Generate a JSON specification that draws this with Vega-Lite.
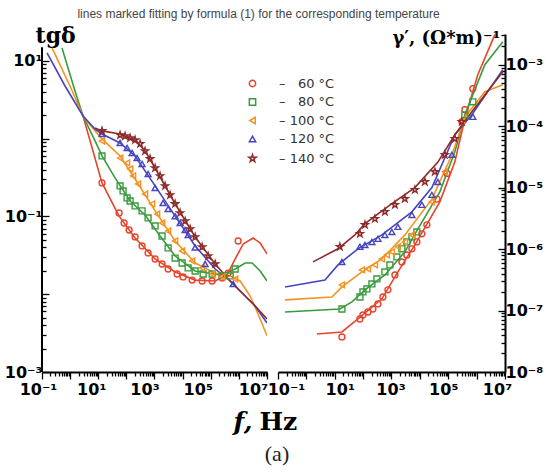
{
"$schema":"https://vega.github.io/schema/vega-lite/v6.json",
"padding":{"left":4,"top":8,"right":2,"bottom":5},
"title":{"text":"lines marked fitting by formula (1) for the corresponding temperature","font":"Liberation Sans","fontSize":12,"fontWeight":"normal","color":"#444","anchor":"middle","dx":-15,"offset":3},
"datasets":{
"pts":[
{"p":"L","T":"60 °C","f":13.6,"v":0.27},{"p":"L","T":"60 °C","f":55,"v":0.111},{"p":"L","T":"60 °C","f":83,"v":0.0824},{"p":"L","T":"60 °C","f":125,"v":0.067},{"p":"L","T":"60 °C","f":204,"v":0.0545},{"p":"L","T":"60 °C","f":362,"v":0.0418},{"p":"L","T":"60 °C","f":592,"v":0.034},{"p":"L","T":"60 °C","f":1050,"v":0.0284},{"p":"L","T":"60 °C","f":1860,"v":0.0245},{"p":"L","T":"60 °C","f":3050,"v":0.0211},{"p":"L","T":"60 °C","f":6370,"v":0.0182},{"p":"L","T":"60 °C","f":10400,"v":0.0167},{"p":"L","T":"60 °C","f":21800,"v":0.0152},{"p":"L","T":"60 °C","f":49400,"v":0.0148},{"p":"L","T":"60 °C","f":112000,"v":0.0148},{"p":"L","T":"60 °C","f":255000,"v":0.0162},{"p":"L","T":"60 °C","f":416000,"v":0.0187},{"p":"L","T":"60 °C","f":944000,"v":0.0484},
{"p":"L","T":"80 °C","f":13.6,"v":0.6},{"p":"L","T":"80 °C","f":59.7,"v":0.247},{"p":"L","T":"80 °C","f":76.4,"v":0.213},{"p":"L","T":"80 °C","f":106,"v":0.173},{"p":"L","T":"80 °C","f":136,"v":0.158},{"p":"L","T":"80 °C","f":204,"v":0.1365},{"p":"L","T":"80 °C","f":362,"v":0.118},{"p":"L","T":"80 °C","f":592,"v":0.0957},{"p":"L","T":"80 °C","f":1050,"v":0.0755},{"p":"L","T":"80 °C","f":1860,"v":0.0561},{"p":"L","T":"80 °C","f":3050,"v":0.0394},{"p":"L","T":"80 °C","f":5410,"v":0.0292},{"p":"L","T":"80 °C","f":9600,"v":0.0252},{"p":"L","T":"80 °C","f":15700,"v":0.0218},{"p":"L","T":"80 °C","f":27900,"v":0.0199},{"p":"L","T":"80 °C","f":53700,"v":0.0182},{"p":"L","T":"80 °C","f":112000,"v":0.0182},{"p":"L","T":"80 °C","f":255000,"v":0.0172},{"p":"L","T":"80 °C","f":490000,"v":0.0172},{"p":"L","T":"80 °C","f":738000,"v":0.0211},
{"p":"L","T":"100 °C","f":13.6,"v":0.935},{"p":"L","T":"100 °C","f":59.7,"v":0.565},{"p":"L","T":"100 °C","f":106,"v":0.488},{"p":"L","T":"100 °C","f":136,"v":0.408},{"p":"L","T":"100 °C","f":173,"v":0.332},{"p":"L","T":"100 °C","f":261,"v":0.262},{"p":"L","T":"100 °C","f":462,"v":0.1945},{"p":"L","T":"100 °C","f":822,"v":0.145},{"p":"L","T":"100 °C","f":1240,"v":0.1076},{"p":"L","T":"100 °C","f":1860,"v":0.0824},{"p":"L","T":"100 °C","f":3050,"v":0.065},{"p":"L","T":"100 °C","f":5410,"v":0.0484},{"p":"L","T":"100 °C","f":9600,"v":0.036},{"p":"L","T":"100 °C","f":21800,"v":0.0268},{"p":"L","T":"100 °C","f":49400,"v":0.0218},{"p":"L","T":"100 °C","f":112000,"v":0.0182},{"p":"L","T":"100 °C","f":255000,"v":0.0167},{"p":"L","T":"100 °C","f":738000,"v":0.0157},
{"p":"L","T":"120 °C","f":13.6,"v":1.15},{"p":"L","T":"120 °C","f":59.7,"v":0.881},{"p":"L","T":"120 °C","f":106,"v":0.76},{"p":"L","T":"120 °C","f":160,"v":0.656},{"p":"L","T":"120 °C","f":240,"v":0.565},{"p":"L","T":"120 °C","f":362,"v":0.473},{"p":"L","T":"120 °C","f":592,"v":0.352},{"p":"L","T":"120 °C","f":1050,"v":0.233},{"p":"L","T":"120 °C","f":2020,"v":0.149},{"p":"L","T":"120 °C","f":3050,"v":0.125},{"p":"L","T":"120 °C","f":5410,"v":0.101},{"p":"L","T":"120 °C","f":8150,"v":0.0824},{"p":"L","T":"120 °C","f":12300,"v":0.067},{"p":"L","T":"120 °C","f":15700,"v":0.058},{"p":"L","T":"120 °C","f":27900,"v":0.04},{"p":"L","T":"120 °C","f":63200,"v":0.0245},{"p":"L","T":"120 °C","f":627000,"v":0.01355},
{"p":"L","T":"140 °C","f":13.6,"v":1.26},{"p":"L","T":"140 °C","f":59.7,"v":1.117},{"p":"L","T":"140 °C","f":90,"v":1.084},{"p":"L","T":"140 °C","f":136,"v":1.023},{"p":"L","T":"140 °C","f":204,"v":0.964},{"p":"L","T":"140 °C","f":308,"v":0.857},{"p":"L","T":"140 °C","f":462,"v":0.695},{"p":"L","T":"140 °C","f":697,"v":0.55},{"p":"L","T":"140 °C","f":1050,"v":0.42},{"p":"L","T":"140 °C","f":1580,"v":0.332},{"p":"L","T":"140 °C","f":2380,"v":0.247},{"p":"L","T":"140 °C","f":3590,"v":0.189},{"p":"L","T":"140 °C","f":5410,"v":0.145},{"p":"L","T":"140 °C","f":8150,"v":0.111},{"p":"L","T":"140 °C","f":12300,"v":0.0875},{"p":"L","T":"140 °C","f":18500,"v":0.069},{"p":"L","T":"140 °C","f":27900,"v":0.0545},{"p":"L","T":"140 °C","f":49400,"v":0.0405},{"p":"L","T":"140 °C","f":80700,"v":0.031},{"p":"L","T":"140 °C","f":144000,"v":0.0245},
{"p":"R","T":"60 °C","f":17.9,"v":3.72e-8},{"p":"R","T":"60 °C","f":77.1,"v":7.29e-8},{"p":"R","T":"60 °C","f":98.4,"v":8.47e-8},{"p":"R","T":"60 °C","f":148,"v":9.48e-8},{"p":"R","T":"60 °C","f":221,"v":1.06e-7},{"p":"R","T":"60 °C","f":332,"v":1.28e-7},{"p":"R","T":"60 °C","f":498,"v":1.66e-7},{"p":"R","T":"60 °C","f":747,"v":2.17e-7},{"p":"R","T":"60 °C","f":1320,"v":3.8e-7},{"p":"R","T":"60 °C","f":2320,"v":6.19e-7},{"p":"R","T":"60 °C","f":3480,"v":8.04e-7},{"p":"R","T":"60 °C","f":5230,"v":1.01e-6},{"p":"R","T":"60 °C","f":7840,"v":1.31e-6},{"p":"R","T":"60 °C","f":11700,"v":1.77e-6},{"p":"R","T":"60 °C","f":17600,"v":2.48e-6},{"p":"R","T":"60 °C","f":40000,"v":6.5e-6},{"p":"R","T":"60 °C","f":90000,"v":1.7e-5},{"p":"R","T":"60 °C","f":301000,"v":1.18e-4},{"p":"R","T":"60 °C","f":385000,"v":1.85e-4},{"p":"R","T":"60 °C","f":735000,"v":4.06e-4},
{"p":"R","T":"80 °C","f":17.9,"v":1.06e-7},{"p":"R","T":"80 °C","f":77.1,"v":1.66e-7},{"p":"R","T":"80 °C","f":98.4,"v":2.01e-7},{"p":"R","T":"80 °C","f":136,"v":2.25e-7},{"p":"R","T":"80 °C","f":204,"v":2.71e-7},{"p":"R","T":"80 °C","f":306,"v":3.27e-7},{"p":"R","T":"80 °C","f":586,"v":4.25e-7},{"p":"R","T":"80 °C","f":879,"v":5.53e-7},{"p":"R","T":"80 °C","f":1550,"v":7.46e-7},{"p":"R","T":"80 °C","f":2320,"v":1.01e-6},{"p":"R","T":"80 °C","f":3480,"v":1.31e-6},{"p":"R","T":"80 °C","f":5230,"v":1.58e-6},{"p":"R","T":"80 °C","f":7840,"v":1.9e-6},{"p":"R","T":"80 °C","f":385000,"v":1.53e-4},{"p":"R","T":"80 °C","f":735000,"v":2.49e-4},
{"p":"R","T":"100 °C","f":17.9,"v":2.61e-7},{"p":"R","T":"100 °C","f":90.7,"v":4.58e-7},{"p":"R","T":"100 °C","f":148,"v":4.76e-7},{"p":"R","T":"100 °C","f":260,"v":5.53e-7},{"p":"R","T":"100 °C","f":459,"v":6.92e-7},{"p":"R","T":"100 °C","f":689,"v":8.04e-7},{"p":"R","T":"100 °C","f":1030,"v":9.0e-7},{"p":"R","T":"100 °C","f":1680,"v":1.09e-6},{"p":"R","T":"100 °C","f":2960,"v":1.31e-6},{"p":"R","T":"100 °C","f":5230,"v":1.7e-6},{"p":"R","T":"100 °C","f":26500,"v":5.87e-6},{"p":"R","T":"100 °C","f":75900,"v":1.81e-5},{"p":"R","T":"100 °C","f":301000,"v":1.18e-4},
{"p":"R","T":"120 °C","f":17.9,"v":6.19e-7},{"p":"R","T":"120 °C","f":77.1,"v":1.09e-6},{"p":"R","T":"120 °C","f":116,"v":1.17e-6},{"p":"R","T":"120 °C","f":204,"v":1.31e-6},{"p":"R","T":"120 °C","f":332,"v":1.47e-6},{"p":"R","T":"120 °C","f":586,"v":1.7e-6},{"p":"R","T":"120 °C","f":1030,"v":1.9e-6},{"p":"R","T":"120 °C","f":1680,"v":2.3e-6},{"p":"R","T":"120 °C","f":5230,"v":3.6e-6},{"p":"R","T":"120 °C","f":11700,"v":5.25e-6},{"p":"R","T":"120 °C","f":26500,"v":7.63e-6},{"p":"R","T":"120 °C","f":43100,"v":1.24e-5},{"p":"R","T":"120 °C","f":134000,"v":3.42e-5},{"p":"R","T":"120 °C","f":735000,"v":1.42e-4},
{"p":"R","T":"140 °C","f":15.2,"v":1.09e-6},{"p":"R","T":"140 °C","f":77.1,"v":1.77e-6},{"p":"R","T":"140 °C","f":116,"v":2.48e-6},{"p":"R","T":"140 °C","f":260,"v":3.1e-6},{"p":"R","T":"140 °C","f":586,"v":4.04e-6},{"p":"R","T":"140 °C","f":1320,"v":5.25e-6},{"p":"R","T":"140 °C","f":2960,"v":6.57e-6},{"p":"R","T":"140 °C","f":6670,"v":9.2e-6},{"p":"R","T":"140 °C","f":15000,"v":1.24e-5},{"p":"R","T":"140 °C","f":33700,"v":1.81e-5},{"p":"R","T":"140 °C","f":75900,"v":3.42e-5},{"p":"R","T":"140 °C","f":171000,"v":6.24e-5},{"p":"R","T":"140 °C","f":301000,"v":1.18e-4}
],
"fit":[
{"p":"L","T":"60 °C","f":1.76,"v":3.06},{"p":"L","T":"60 °C","f":2.88,"v":1.96},{"p":"L","T":"60 °C","f":13.6,"v":0.27},{"p":"L","T":"60 °C","f":55,"v":0.101},{"p":"L","T":"60 °C","f":204,"v":0.0528},{"p":"L","T":"60 °C","f":1050,"v":0.0284},{"p":"L","T":"60 °C","f":5410,"v":0.0193},{"p":"L","T":"60 °C","f":27900,"v":0.0152},{"p":"L","T":"60 °C","f":144000,"v":0.0148},{"p":"L","T":"60 °C","f":384000,"v":0.0177},{"p":"L","T":"60 °C","f":738000,"v":0.0284},{"p":"L","T":"60 °C","f":1420000,"v":0.0443},{"p":"L","T":"60 °C","f":3230000,"v":0.0528},{"p":"L","T":"60 °C","f":5730000,"v":0.0456},{"p":"L","T":"60 °C","f":10000000,"v":0.033},
{"p":"L","T":"80 °C","f":0.515,"v":14.7},{"p":"L","T":"80 °C","f":1.49,"v":4.11},{"p":"L","T":"80 °C","f":2.88,"v":1.96},{"p":"L","T":"80 °C","f":7.69,"v":0.935},{"p":"L","T":"80 °C","f":13.6,"v":0.6},{"p":"L","T":"80 °C","f":39.6,"v":0.313},{"p":"L","T":"80 °C","f":136,"v":0.158},{"p":"L","T":"80 °C","f":462,"v":0.1045},{"p":"L","T":"80 °C","f":1580,"v":0.0561},{"p":"L","T":"80 °C","f":5410,"v":0.031},{"p":"L","T":"80 °C","f":27900,"v":0.0199},{"p":"L","T":"80 °C","f":216000,"v":0.0177},{"p":"L","T":"80 °C","f":738000,"v":0.0211},{"p":"L","T":"80 °C","f":1670000,"v":0.0252},{"p":"L","T":"80 °C","f":2970000,"v":0.0252},{"p":"L","T":"80 °C","f":5730000,"v":0.0199},{"p":"L","T":"80 °C","f":10000000,"v":0.0148},
{"p":"L","T":"100 °C","f":0.227,"v":14.7},{"p":"L","T":"100 °C","f":0.99,"v":4.76},{"p":"L","T":"100 °C","f":2.88,"v":1.96},{"p":"L","T":"100 °C","f":7.69,"v":1.26},{"p":"L","T":"100 °C","f":13.6,"v":0.993},{"p":"L","T":"100 °C","f":59.7,"v":0.6},{"p":"L","T":"100 °C","f":204,"v":0.303},{"p":"L","T":"100 °C","f":1050,"v":0.118},{"p":"L","T":"100 °C","f":5410,"v":0.0484},{"p":"L","T":"100 °C","f":27900,"v":0.0252},{"p":"L","T":"100 °C","f":144000,"v":0.0187},{"p":"L","T":"100 °C","f":490000,"v":0.0172},{"p":"L","T":"100 °C","f":1110000,"v":0.0148},{"p":"L","T":"100 °C","f":2520000,"v":0.00948},{"p":"L","T":"100 °C","f":5730000,"v":0.00481},{"p":"L","T":"100 °C","f":10000000,"v":0.0029},
{"p":"L","T":"120 °C","f":0.151,"v":12.7},{"p":"L","T":"120 °C","f":0.659,"v":4.76},{"p":"L","T":"120 °C","f":2.88,"v":1.96},{"p":"L","T":"120 °C","f":7.69,"v":1.33},{"p":"L","T":"120 °C","f":13.6,"v":1.15},{"p":"L","T":"120 °C","f":59.7,"v":0.881},{"p":"L","T":"120 °C","f":204,"v":0.6},{"p":"L","T":"120 °C","f":1050,"v":0.247},{"p":"L","T":"120 °C","f":5410,"v":0.101},{"p":"L","T":"120 °C","f":27900,"v":0.0418},{"p":"L","T":"120 °C","f":144000,"v":0.0211},{"p":"L","T":"120 °C","f":490000,"v":0.0148},{"p":"L","T":"120 °C","f":1670000,"v":0.00948},{"p":"L","T":"120 °C","f":3800000,"v":0.00706},{"p":"L","T":"120 °C","f":10000000,"v":0.00427},
{"p":"L","T":"140 °C","f":7.69,"v":1.374},{"p":"L","T":"140 °C","f":13.6,"v":1.26},{"p":"L","T":"140 °C","f":59.7,"v":1.15},{"p":"L","T":"140 °C","f":204,"v":0.964},{"p":"L","T":"140 °C","f":462,"v":0.695},{"p":"L","T":"140 °C","f":1050,"v":0.42},{"p":"L","T":"140 °C","f":5410,"v":0.145},{"p":"L","T":"140 °C","f":27900,"v":0.0545},{"p":"L","T":"140 °C","f":144000,"v":0.0245},{"p":"L","T":"140 °C","f":490000,"v":0.0148},{"p":"L","T":"140 °C","f":1670000,"v":0.00948},{"p":"L","T":"140 °C","f":3800000,"v":0.00706},{"p":"L","T":"140 °C","f":10000000,"v":0.00481},
{"p":"R","T":"60 °C","f":2.36,"v":4.16e-8},{"p":"R","T":"60 °C","f":17.9,"v":4.48e-8},{"p":"R","T":"60 °C","f":65.6,"v":7.29e-8},{"p":"R","T":"60 °C","f":459,"v":1.55e-7},{"p":"R","T":"60 °C","f":1680,"v":4.25e-7},{"p":"R","T":"60 °C","f":6670,"v":1.17e-6},{"p":"R","T":"60 °C","f":50600,"v":5.87e-6},{"p":"R","T":"60 °C","f":171000,"v":2.63e-5},{"p":"R","T":"60 °C","f":385000,"v":1.32e-4},{"p":"R","T":"60 °C","f":1100000,"v":6.87e-4},{"p":"R","T":"60 °C","f":4380000,"v":3.08e-3},
{"p":"R","T":"80 °C","f":0.176,"v":9.48e-8},{"p":"R","T":"80 °C","f":15.2,"v":1.06e-7},{"p":"R","T":"80 °C","f":40.4,"v":1.38e-7},{"p":"R","T":"80 °C","f":116,"v":2.17e-7},{"p":"R","T":"80 °C","f":586,"v":3.8e-7},{"p":"R","T":"80 °C","f":2960,"v":9.0e-7},{"p":"R","T":"80 °C","f":8510,"v":2.13e-6},{"p":"R","T":"80 °C","f":50600,"v":8.55e-6},{"p":"R","T":"80 °C","f":171000,"v":3.83e-5},{"p":"R","T":"80 °C","f":385000,"v":1.53e-4},{"p":"R","T":"80 °C","f":1950000,"v":1e-3},{"p":"R","T":"80 °C","f":8370000,"v":2.37e-3},
{"p":"R","T":"100 °C","f":0.176,"v":1.49e-7},{"p":"R","T":"100 °C","f":7.96,"v":1.66e-7},{"p":"R","T":"100 °C","f":17.9,"v":2.42e-7},{"p":"R","T":"100 °C","f":90.7,"v":4.25e-7},{"p":"R","T":"100 °C","f":459,"v":6.92e-7},{"p":"R","T":"100 °C","f":2960,"v":1.7e-6},{"p":"R","T":"100 °C","f":26500,"v":6.5e-6},{"p":"R","T":"100 °C","f":134000,"v":3.4e-5},{"p":"R","T":"100 °C","f":385000,"v":1.4e-4},{"p":"R","T":"100 °C","f":1950000,"v":3.63e-4},{"p":"R","T":"100 °C","f":8370000,"v":4.72e-4},
{"p":"R","T":"120 °C","f":0.176,"v":2.42e-7},{"p":"R","T":"120 °C","f":4.52,"v":3.15e-7},{"p":"R","T":"120 °C","f":13,"v":5.53e-7},{"p":"R","T":"120 °C","f":65.6,"v":1.01e-6},{"p":"R","T":"120 °C","f":459,"v":1.7e-6},{"p":"R","T":"120 °C","f":5230,"v":4.04e-6},{"p":"R","T":"120 °C","f":26500,"v":1.0e-5},{"p":"R","T":"120 °C","f":171000,"v":7.25e-5},{"p":"R","T":"120 °C","f":678000,"v":1.53e-4},{"p":"R","T":"120 °C","f":8370000,"v":8.29e-4},
{"p":"R","T":"140 °C","f":1.71,"v":6.19e-7},{"p":"R","T":"140 °C","f":13,"v":1.01e-6},{"p":"R","T":"140 °C","f":51.4,"v":1.7e-6},{"p":"R","T":"140 °C","f":116,"v":2.6e-6},{"p":"R","T":"140 °C","f":1030,"v":5.5e-6},{"p":"R","T":"140 °C","f":6670,"v":1.0e-5},{"p":"R","T":"140 °C","f":43100,"v":2.6e-5},{"p":"R","T":"140 °C","f":171000,"v":7.25e-5},{"p":"R","T":"140 °C","f":678000,"v":1.72e-4},{"p":"R","T":"140 °C","f":8370000,"v":7.7e-4}
]},
"hconcat":[
{
"width":225,"height":338,
"title":{"text":"(a)","orient":"bottom","anchor":"start","frame":"group","dx":235,"align":"center","font":"Liberation Serif","fontSize":22,"fontWeight":"normal","color":"#222","offset":10},
"layer":[
{"data":{"values":[{"a":1}]},"mark":{"type":"rule","color":"black","strokeWidth":2},
 "encoding":{"x":{"datum":0.1,"type":"quantitative"},"y":{"datum":0.001,"type":"quantitative"},"y2":{"datum":15}}},
{"data":{"name":"fit"},"transform":[{"filter":"datum.p == 'L'"}],"mark":{"type":"line","strokeWidth":1.6,"clip":true},
 "encoding":{
  "x":{"field":"f","type":"quantitative","scale":{"type":"log","domain":[0.1,10000000],"nice":false},
   "axis":{"values":[0.1,0.2,0.3,0.4,0.5,0.6,0.7,0.8,0.9,1,2,3,4,5,6,7,8,9,10,20,30,40,50,60,70,80,90,100,200,300,400,500,600,700,800,900,1000,2000,3000,4000,5000,6000,7000,8000,9000,10000,20000,30000,40000,50000,60000,70000,80000,90000,100000,200000,300000,400000,500000,600000,700000,800000,900000,1000000,2000000,3000000,4000000,5000000,6000000,7000000,8000000,9000000,10000000],
    "labelExpr":"datum.value == 0.1 ? '10⁻¹' : datum.value == 10 ? '10¹' : datum.value == 1000 ? '10³' : datum.value == 100000 ? '10⁵' : datum.value == 10000000 ? '10⁷' : ''",
    "labelOffset":{"condition":[{"test":"datum.value == 0.1","value":-4},{"test":"datum.value == 10","value":-7},{"test":"datum.value == 1000","value":-10},{"test":"datum.value == 100000","value":-13}],"value":-14},
    "tickSize":{"condition":{"test":"indexof([0.1,1,10,100,1000,10000,100000,1000000,10000000], datum.value) >= 0","value":7},"value":4},
    "title":"f,","titleX":191,"titleY":57,"titleAlign":"left","titleBaseline":"alphabetic","titleFont":"DejaVu Serif","titleFontSize":25,"titleFontWeight":"bold","titleFontStyle":"italic","titleColor":"black"}},
  "y":{"field":"v","type":"quantitative","scale":{"type":"log","domain":[0.001,22.2],"nice":false},
   "axis":{"domain":false,"values":[0.001,0.002,0.003,0.004,0.005,0.006,0.007,0.008,0.009,0.01,0.02,0.03,0.04,0.05,0.06,0.07,0.08,0.09,0.1,0.2,0.3,0.4,0.5,0.6,0.7,0.8,0.9,1,2,3,4,5,6,7,8,9,10],
    "labelExpr":"datum.value == 0.001 ? '10⁻³' : datum.value == 0.1 ? '10⁻¹' : datum.value == 10 ? '10¹' : ''",
    "tickSize":{"condition":{"test":"indexof([0.001,0.01,0.1,1,10], datum.value) >= 0","value":-7},"value":-4},
    "labelPadding":7,
    "title":"tgδ","titleAngle":0,"titleX":-7,"titleY":8,"titleAlign":"left","titleBaseline":"alphabetic","titleFont":"DejaVu Serif","titleFontSize":22,"titleFontWeight":"bold","titleColor":"black"}},
  "color":{"field":"T","type":"nominal","scale":{"domain":["60 °C","80 °C","100 °C","120 °C","140 °C"],"range":["#e8432b","#3a9b3e","#f39422","#4545c0","#8e2b2b"]}}
 }},
{"data":{"name":"pts"},"transform":[{"filter":"datum.p == 'L'"}],"mark":{"type":"point","filled":false,"strokeWidth":1.4,"size":35,"opacity":1},
 "encoding":{
  "x":{"field":"f","type":"quantitative"},
  "y":{"field":"v","type":"quantitative"},
  "color":{"field":"T","type":"nominal","legend":{"orient":"none","legendX":204,"legendY":43,"title":null,"labelExpr":"(length(datum.label) < 6 ? '–\u00a0\u00a0\u00a0' : '–\u00a0') + datum.label","labelFont":"DejaVu Sans","labelFontSize":13,"labelColor":"#333","symbolSize":40,"symbolStrokeWidth":1.5,"labelOffset":20,"rowPadding":4.5}},
  "shape":{"field":"T","type":"nominal","scale":{"domain":["60 °C","80 °C","100 °C","120 °C","140 °C"],"range":["circle","square","triangle-left","triangle-up","M0,-1.2L0.269,-0.371L1.141,-0.371L0.436,0.142L0.705,0.971L0,0.458L-0.705,0.971L-0.436,0.142L-1.141,-0.371L-0.269,-0.371Z"]},"legend":{"orient":"none","legendX":204,"legendY":43,"title":null}}
 }}
]},
{
"width":227,"height":338,
"layer":[
{"data":{"name":"fit"},"transform":[{"filter":"datum.p == 'R'"}],"mark":{"type":"line","strokeWidth":1.6,"clip":true},
 "encoding":{
  "x":{"field":"f","type":"quantitative","scale":{"type":"log","domain":[0.1,10000000],"nice":false},
   "axis":{"values":[0.1,0.2,0.3,0.4,0.5,0.6,0.7,0.8,0.9,1,2,3,4,5,6,7,8,9,10,20,30,40,50,60,70,80,90,100,200,300,400,500,600,700,800,900,1000,2000,3000,4000,5000,6000,7000,8000,9000,10000,20000,30000,40000,50000,60000,70000,80000,90000,100000,200000,300000,400000,500000,600000,700000,800000,900000,1000000,2000000,3000000,4000000,5000000,6000000,7000000,8000000,9000000,10000000],
    "labelExpr":"datum.value == 0.1 ? '10⁻¹' : datum.value == 10 ? '10¹' : datum.value == 1000 ? '10³' : datum.value == 100000 ? '10⁵' : datum.value == 10000000 ? '10⁷' : ''",
    "labelOffset":{"condition":[{"test":"datum.value == 0.1","value":8},{"test":"datum.value == 10","value":5},{"test":"datum.value == 1000","value":-1},{"test":"datum.value == 100000","value":-5}],"value":-8},
    "tickSize":{"condition":{"test":"indexof([0.1,1,10,100,1000,10000,100000,1000000,10000000], datum.value) >= 0","value":7},"value":4},
    "title":"Hz","titleX":-19,"titleY":57,"titleAlign":"left","titleBaseline":"alphabetic","titleFont":"DejaVu Serif","titleFontSize":25,"titleFontWeight":"bold","titleColor":"black"}},
  "y":{"field":"v","type":"quantitative","scale":{"type":"log","domain":[1e-8,0.00316],"nice":false},
   "axis":{"orient":"right","values":[1e-8,2e-8,3e-8,4e-8,5e-8,6e-8,7e-8,8e-8,9e-8,1e-7,2e-7,3e-7,4e-7,5e-7,6e-7,7e-7,8e-7,9e-7,1e-6,2e-6,3e-6,4e-6,5e-6,6e-6,7e-6,8e-6,9e-6,1e-5,2e-5,3e-5,4e-5,5e-5,6e-5,7e-5,8e-5,9e-5,1e-4,2e-4,3e-4,4e-4,5e-4,6e-4,7e-4,8e-4,9e-4,1e-3,2e-3,3e-3],
    "labelExpr":"datum.value == 1e-8 ? '10⁻⁸' : datum.value == 1e-7 ? '10⁻⁷' : datum.value == 1e-6 ? '10⁻⁶' : datum.value == 1e-5 ? '10⁻⁵' : datum.value == 1e-4 ? '10⁻⁴' : datum.value == 1e-3 ? '10⁻³' : ''",
    "tickSize":{"condition":{"test":"indexof([1e-8,1e-7,1e-6,1e-5,1e-4,1e-3], datum.value) >= 0","value":-7},"value":-4},
    "labelPadding":7,
    "title":"γ′, (Ω*m)⁻¹","titleAngle":0,"titleX":-5,"titleY":9,"titleAlign":"right","titleBaseline":"alphabetic","titleFont":"DejaVu Serif","titleFontSize":18,"titleFontWeight":"bold","titleColor":"black"}},
  "color":{"field":"T","type":"nominal","scale":{"domain":["60 °C","80 °C","100 °C","120 °C","140 °C"],"range":["#e8432b","#3a9b3e","#f39422","#4545c0","#8e2b2b"]},"legend":null}
 }},
{"data":{"name":"pts"},"transform":[{"filter":"datum.p == 'R'"}],"mark":{"type":"point","filled":false,"strokeWidth":1.4,"size":35,"opacity":1},
 "encoding":{
  "x":{"field":"f","type":"quantitative"},
  "y":{"field":"v","type":"quantitative"},
  "color":{"field":"T","type":"nominal","legend":null},
  "shape":{"field":"T","type":"nominal","scale":{"domain":["60 °C","80 °C","100 °C","120 °C","140 °C"],"range":["circle","square","triangle-left","triangle-up","M0,-1.2L0.269,-0.371L1.141,-0.371L0.436,0.142L0.705,0.971L0,0.458L-0.705,0.971L-0.436,0.142L-1.141,-0.371L-0.269,-0.371Z"]},"legend":null}
 }}
]}
],
"spacing":11,
"bounds":"flush",
"resolve":{"scale":{"color":"independent","shape":"independent"},"legend":{"color":"independent","shape":"independent"}},
"config":{
 "view":{"stroke":null},
 "axis":{"grid":false,"domainColor":"black","domainWidth":2,"tickColor":"black","tickWidth":1.3,"labelFont":"DejaVu Sans","labelFontSize":16,"labelFontWeight":"bold","labelColor":"black","labelOverlap":false,"labelFlush":false,"labelBound":false,"labelPadding":2}
}
}
